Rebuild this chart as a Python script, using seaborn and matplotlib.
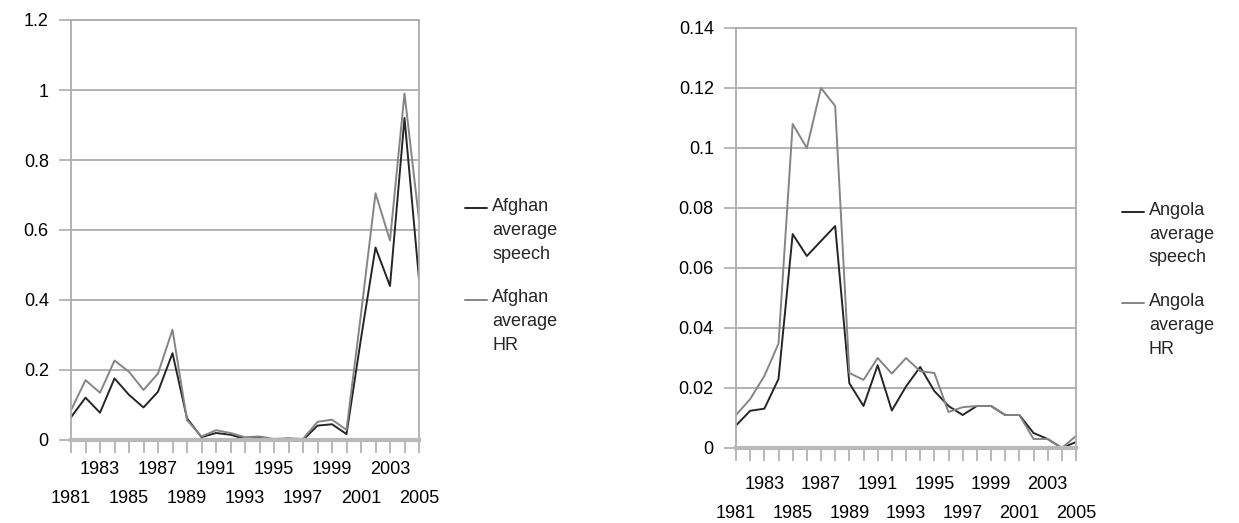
import numpy as np
import pandas as pd
import matplotlib
matplotlib.use("Agg")
import matplotlib.pyplot as plt
from matplotlib.ticker import FuncFormatter
from matplotlib.legend_handler import HandlerLine2D
import seaborn as sns

# data
years = list(range(1981, 2006))

afghan_speech = [0.065, 0.121, 0.078, 0.176, 0.129, 0.093, 0.138, 0.248, 0.062, 0.008,
                 0.020, 0.015, 0.003, 0.008, 0.000, 0.004, 0.000, 0.041, 0.045, 0.017,
                 0.290, 0.550, 0.440, 0.920, 0.460]
afghan_hr = [0.085, 0.171, 0.135, 0.227, 0.195, 0.143, 0.190, 0.315, 0.057, 0.010,
             0.028, 0.020, 0.008, 0.010, 0.003, 0.005, 0.003, 0.052, 0.058, 0.029,
             0.360, 0.705, 0.570, 0.990, 0.630]

angola_speech = [0.0075, 0.0124, 0.0131, 0.0230, 0.0713, 0.0640, 0.0690, 0.0740, 0.0216, 0.0140,
                 0.0276, 0.0125, 0.0205, 0.0270, 0.0190, 0.0140, 0.0110, 0.0140, 0.0140, 0.0110,
                 0.0110, 0.0050, 0.0030, 0.0000, 0.0020]
angola_hr = [0.0110, 0.0163, 0.0240, 0.0348, 0.1080, 0.1000, 0.1200, 0.1140, 0.0250, 0.0227,
             0.0300, 0.0248, 0.0300, 0.0256, 0.0250, 0.0120, 0.0136, 0.0140, 0.0140, 0.0110,
             0.0110, 0.0030, 0.0030, 0.0000, 0.0040]

afghan_labels = ["Afghan\naverage\nspeech", "Afghan\naverage\nHR"]
angola_labels = ["Angola\naverage\nspeech", "Angola\naverage\nHR"]

# upper row of year labels: 1983, 1987, ... ; lower row: 1981, 1985, ...
upper_years = [y for y in years if (y - 1981) % 4 == 2]
other_years = [y for y in years if (y - 1981) % 4 != 2]
lower_labels = [str(y) if (y - 1981) % 4 == 0 else "" for y in other_years]

sns.set_theme(style="white")
plt.rcParams['font.family'] = ['Liberation Sans', 'DejaVu Sans']

SPEECH_COLOR = "#262626"
HR_COLOR = "#858585"
GRID = "#adadad"
FS = 13


class FirstLineHandler(HandlerLine2D):
    """legend line next to the first line of a multi-line label"""
    shift = 16

    def create_artists(self, legend, orig_handle, xdescent, ydescent, width, height,
                       fontsize, trans):
        arts = super().create_artists(legend, orig_handle, xdescent, ydescent, width,
                                      height, fontsize, trans)
        for a in arts:
            a.set_ydata(np.asarray(a.get_ydata()) + self.shift)
        return arts


def make_df(speech, hr, labels):
    return pd.DataFrame({
        "year": years * 2,
        "value": speech + hr,
        "serie": [labels[0]] * len(years) + [labels[1]] * len(years),
    })


def draw_panel(ax, df, labels, ymax, ystep, leg_anchor, xpad):
    sns.lineplot(data=df, x="year", y="value", hue="serie", hue_order=labels,
                 palette=[SPEECH_COLOR, HR_COLOR], linewidth=1.4, ax=ax, legend=True)
    ax.set_xlim(years[0], years[-1])
    ax.set_ylim(0, ymax)
    ax.set_yticks(np.arange(0, ymax + ystep / 2, ystep))
    ax.yaxis.set_major_formatter(FuncFormatter(lambda v, p: f"{round(v, 4):g}"))
    ax.set_xticks(upper_years)
    ax.set_xticklabels([str(y) for y in upper_years])
    ax.set_xticks(other_years, minor=True)
    ax.set_xticklabels(lower_labels, minor=True)
    ax.set_xlabel("")
    ax.set_ylabel("")
    ax.yaxis.grid(True, color=GRID, linewidth=1.3)
    ax.set_axisbelow(True)
    for s in ["left", "right", "top"]:
        ax.spines[s].set_color(GRID)
        ax.spines[s].set_linewidth(1.3)
    ax.spines["bottom"].set_color("#b8b8b8")
    ax.spines["bottom"].set_linewidth(3)
    ax.tick_params(axis="both", which="both", direction="out", length=9, width=1.2,
                   color=GRID, labelsize=FS, labelcolor="black")
    ax.tick_params(axis="x", which="major", bottom=True, pad=xpad)
    ax.tick_params(axis="x", which="minor", bottom=True, pad=xpad + 21)
    ax.tick_params(axis="y", which="major", left=True, pad=7)

    handles, _ = ax.get_legend_handles_labels()
    leg = ax.legend(handles[:2], labels, loc="upper left", bbox_to_anchor=leg_anchor,
                    frameon=False, fontsize=FS, handlelength=1.2,
                    handletextpad=0.3, labelspacing=1.48, borderpad=0, borderaxespad=0,
                    handler_map={h: FirstLineHandler() for h in handles[:2]})
    for t in leg.get_texts():
        t.set_linespacing(1.52)


fig = plt.figure(figsize=(12.39, 5.23), dpi=100)
ax1 = fig.add_axes([71 / 1239, 83 / 523, 348 / 1239, 420 / 523])
ax2 = fig.add_axes([736 / 1239, 75 / 523, 340 / 1239, 420 / 523])

draw_panel(ax1, make_df(afghan_speech, afghan_hr, afghan_labels), afghan_labels,
           1.2, 0.2, (1.132, 0.576), 6)
draw_panel(ax2, make_df(angola_speech, angola_hr, angola_labels), angola_labels,
           0.14, 0.02, (1.135, 0.586), 11)

fig.savefig("out.png", dpi=100)
